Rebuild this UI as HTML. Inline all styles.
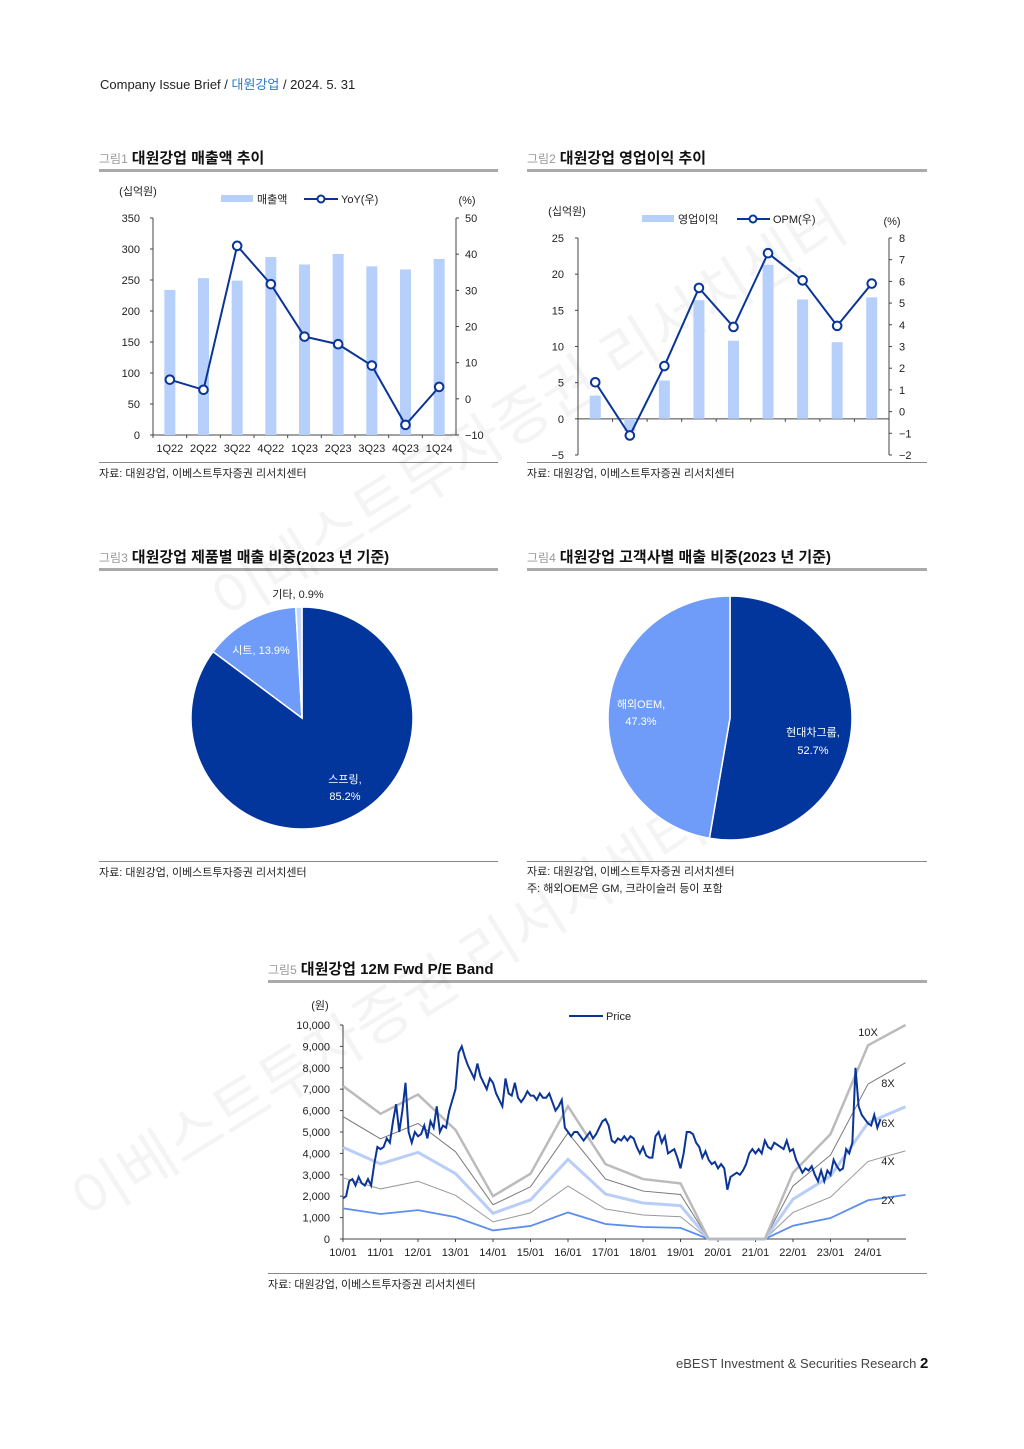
<!DOCTYPE html>
<html><head><meta charset="utf-8">
<style>
body{margin:0;background:#fff;}
#page{position:relative;width:1024px;height:1449px;background:#fff;font-family:"Liberation Sans","Noto Sans CJK KR",sans-serif;color:#222;overflow:hidden;}
.t{position:absolute;white-space:nowrap;}
.ttl{position:absolute;font-size:15px;font-weight:bold;color:#111;border-bottom:3px solid #aaa;padding-bottom:2px;height:20px;}
.ttl span{font-size:12px;font-weight:normal;color:#999;margin-right:4px;}
.src{position:absolute;font-size:11px;color:#222;border-top:1px solid #888;padding-top:2px;}
svg text{font-family:"Liberation Sans","Noto Sans CJK KR",sans-serif;}
</style></head><body>
<div id="page">
<div class="t" style="left:100px;top:74px;font-size:13px;">Company Issue Brief / <span style="color:#2a7ac8">대원강업</span> / 2024. 5. 31</div>

<div class="ttl" style="left:99px;top:147px;width:399px;"><span>그림1</span>대원강업 매출액 추이</div>
<div class="ttl" style="left:527px;top:147px;width:400px;"><span>그림2</span>대원강업 영업이익 추이</div>
<div class="ttl" style="left:99px;top:546px;width:399px;"><span>그림3</span>대원강업 제품별 매출 비중(2023 년 기준)</div>
<div class="ttl" style="left:527px;top:546px;width:400px;"><span>그림4</span>대원강업 고객사별 매출 비중(2023 년 기준)</div>
<div class="ttl" style="left:268px;top:958px;width:659px;"><span>그림5</span>대원강업 12M Fwd P/E Band</div>

<div class="src" style="left:99px;top:462px;width:399px;">자료: 대원강업, 이베스트투자증권 리서치센터</div>
<div class="src" style="left:527px;top:462px;width:400px;">자료: 대원강업, 이베스트투자증권 리서치센터</div>
<div class="src" style="left:99px;top:861px;width:399px;">자료: 대원강업, 이베스트투자증권 리서치센터</div>
<div class="src" style="left:527px;top:861px;width:400px;line-height:17px;">자료: 대원강업, 이베스트투자증권 리서치센터<br>주: 해외OEM은 GM, 크라이슬러 등이 포함</div>
<div class="src" style="left:268px;top:1273px;width:659px;">자료: 대원강업, 이베스트투자증권 리서치센터</div>

<div class="t" style="left:676px;top:1355px;font-size:13px;color:#444;">eBEST Investment &amp; Securities Research <b style="font-size:15px;color:#111">2</b></div>

<svg id="c1" style="position:absolute;left:0;top:0" width="1024" height="1449"></svg>
</div>
<script>
// Figure 1 data
const q1Cats=["1Q22","2Q22","3Q22","4Q22","1Q23","2Q23","3Q23","4Q23","1Q24"];
const salesVals=[234,253,249,287,275,292,272,267,284];
const yoyVals=[5.3,2.5,42.3,31.7,17.2,15.1,9.2,-7.2,3.3];
const salesTicks=[0,50,100,150,200,250,300,350];
const yoyTicks=[-10,0,10,20,30,40,50];
// Figure 2 data
const opVals=[3.2,-1.7,5.3,16.4,10.8,21.3,16.5,10.6,16.8];
const opmVals=[1.35,-1.1,2.1,5.7,3.9,7.3,6.05,3.95,5.9];
const opTicks=[-5,0,5,10,15,20,25];
const opmTicks=[-2,-1,0,1,2,3,4,5,6,7,8];
// Figure 3/4 data
const prodLabels=["스프링","시트","기타"];
const prodShares=[85.2,13.9,0.9];
const custLabels=["현대차그룹","해외OEM"];
const custShares=[52.7,47.3];
// Figure 5 data
const xTickLabels=["10/01","11/01","12/01","13/01","14/01","15/01","16/01","17/01","18/01","19/01","20/01","21/01","22/01","23/01","24/01"];
const priceTicks=[0,1000,2000,3000,4000,5000,6000,7000,8000,9000,10000];
const priceMonthly=[1900,2000,2700,2800,2500,2900,2600,2500,2800,2500,3500,4300,
4200,4300,4700,4500,5500,6300,5000,6000,7300,5000,4500,5000,
4800,4900,5300,4700,5500,5200,6200,5000,5300,5200,6000,6500,
7000,8700,9000,8500,8100,7800,7500,8200,7600,7300,7000,7500,
7300,6800,6500,6200,7500,6800,6700,7300,6600,6400,6600,6900,
6700,6700,6500,6800,6600,6600,6800,6400,6000,6200,6500,5200,
5000,4800,5000,5000,4800,4600,4800,5000,4700,4900,5200,5500,
5600,5300,4600,4500,4700,4600,4800,4600,4800,4700,4300,4000,
4300,3900,3800,3800,4800,5000,4500,4800,4000,4100,4200,3800,
3300,4000,5000,5000,4900,4500,4300,3800,4100,3700,3500,3600,
3300,3500,3300,2300,2900,3000,3100,3000,3200,3500,4000,4200,
4000,4200,4000,4600,4300,4200,4500,4400,4300,4200,4600,4100,
4200,3700,3400,3100,3300,3200,3400,3000,2700,3200,2700,3200,
3000,3700,3400,3200,3300,4200,4000,4500,8000,6200,5800,5600,
5400,5300,5800,5200,5600];
const epsYears=[0,1,2,3,4,5,6,7,8,9,9.75,11.25,12,13,14,15];
const epsVals=[715,585,675,510,200,305,620,350,280,260,0,0,310,490,905,1030];
const bandMults=[2,4,6,8,10];

const NS="http://www.w3.org/2000/svg";
const svg=document.getElementById('c1');
function mk(tag,attrs,parent){const e=document.createElementNS(NS,tag);for(const k in attrs)e.setAttribute(k,attrs[k]);(parent||svg).appendChild(e);return e;}
function txt(x,y,s,size,anchor,fill,parent){const e=mk('text',{x:x,y:y,'font-size':size,'text-anchor':anchor||'middle',fill:fill||'#222'},parent);e.textContent=s;return e;}

// watermark (behind)
const wm=mk('g',{opacity:0.045});


const w1=txt(0,0,'이베스트투자증권 리서치센터',60,'middle','#000',wm);w1.setAttribute('transform','translate(540,430) rotate(-32)');
const w2=txt(0,0,'이베스트투자증권 리서치센터',60,'middle','#000',wm);w2.setAttribute('transform','translate(400,1030) rotate(-32)');

// ---------- Figure 1 ----------
(function(){
const g=mk('g',{});


const L=153,R=456,T=218,B=435;
const yL=v=>B-(v-0)/350*(B-T);
const yR=v=>B-(v+10)/60*(B-T);
const step=(R-L)/9;
const xc=i=>L+step*(i+0.5);
mk('line',{x1:L,y1:T,x2:L,y2:B,stroke:'#444'},g);
mk('line',{x1:R,y1:T,x2:R,y2:B,stroke:'#444'},g);
mk('line',{x1:L,y1:B,x2:R,y2:B,stroke:'#444'},g);
salesTicks.forEach(v=>{mk('line',{x1:L-3,y1:yL(v),x2:L,y2:yL(v),stroke:'#444'},g);txt(L-13,yL(v)+4,v,11,'end','#222',g);});
yoyTicks.forEach(v=>{mk('line',{x1:R,y1:yR(v),x2:R+3,y2:yR(v),stroke:'#444'},g);txt(R+9,yR(v)+4,v<0?'−'+(-v):v,11,'start','#222',g);});
q1Cats.forEach((c,i)=>{mk('line',{x1:L+step*i,y1:B,x2:L+step*i,y2:B+3,stroke:'#444'},g);txt(xc(i),B+17,c,11,'middle','#222',g);});
salesVals.forEach((v,i)=>{const b=mk('rect',{x:xc(i)-5.5,y:yL(v),width:11,height:B-yL(v),fill:'#b7cffb'},g);

});
mk('polyline',{points:yoyVals.map((v,i)=>xc(i)+','+yR(v)).join(' '),fill:'none',stroke:'#0a3596','stroke-width':2},g);
yoyVals.forEach((v,i)=>{const p=mk('circle',{cx:xc(i),cy:yR(v),r:4.3,fill:'#fff',stroke:'#0a3596','stroke-width':2},g);

});
txt(138,195,'(십억원)',11,'middle','#222',g);
txt(467,204,'(%)',11,'middle','#222',g);
mk('rect',{x:221,y:195,width:32,height:7,fill:'#b7cffb'},g);txt(257,203,'매출액',11,'start','#222',g);
mk('line',{x1:304,y1:199,x2:338,y2:199,stroke:'#0a3596','stroke-width':2},g);
mk('circle',{cx:321,cy:199,r:3.5,fill:'#fff',stroke:'#0a3596','stroke-width':2},g);
txt(341,203,'YoY(우)',11,'start','#222',g);
})();

// ---------- Figure 2 ----------
(function(){
const g=mk('g',{});


const L=578,R=889,T=238,B=455;
const yL=v=>B-(v+5)/30*(B-T);
const yR=v=>B-(v+2)/10*(B-T);
const step=(R-L)/9;
const xc=i=>L+step*(i+0.5);
mk('line',{x1:L,y1:T,x2:L,y2:B,stroke:'#444'},g);
mk('line',{x1:R,y1:T,x2:R,y2:B,stroke:'#444'},g);
mk('line',{x1:L,y1:yL(0),x2:R,y2:yL(0),stroke:'#444'},g);
opTicks.forEach(v=>{mk('line',{x1:L-3,y1:yL(v),x2:L,y2:yL(v),stroke:'#444'},g);txt(L-14,yL(v)+4,v<0?'−'+(-v):v,11,'end','#222',g);});
opmTicks.forEach(v=>{mk('line',{x1:R,y1:yR(v),x2:R+3,y2:yR(v),stroke:'#444'},g);txt(R+10,yR(v)+4,v<0?'−'+(-v):v,11,'start','#222',g);});
opVals.forEach((v,i)=>{mk('line',{x1:L+step*i,y1:yL(0),x2:L+step*i,y2:yL(0)+3,stroke:'#444'},g);
const b=mk('rect',{x:xc(i)-5.5,y:Math.min(yL(v),yL(0)),width:11,height:Math.abs(yL(0)-yL(v)),fill:'#b7cffb'},g);

});
mk('polyline',{points:opmVals.map((v,i)=>xc(i)+','+yR(v)).join(' '),fill:'none',stroke:'#0a3596','stroke-width':2},g);
opmVals.forEach((v,i)=>{const p=mk('circle',{cx:xc(i),cy:yR(v),r:4.3,fill:'#fff',stroke:'#0a3596','stroke-width':2},g);

});
txt(567,215,'(십억원)',11,'middle','#222',g);
txt(892,225,'(%)',11,'middle','#222',g);
mk('rect',{x:642,y:215,width:32,height:7,fill:'#b7cffb'},g);txt(678,223,'영업이익',11,'start','#222',g);
mk('line',{x1:737,y1:219,x2:770,y2:219,stroke:'#0a3596','stroke-width':2},g);
mk('circle',{cx:753,cy:219,r:3.5,fill:'#fff',stroke:'#0a3596','stroke-width':2},g);
txt(773,223,'OPM(우)',11,'start','#222',g);
})();

// ---------- Pies ----------
function pie(cx,cy,r,shares,colors,name){
const g=mk('g',{});


let a0=0;const tot=shares.reduce((a,b)=>a+b,0);
shares.forEach((s,i)=>{const a1=a0+s/tot*2*Math.PI;
const p=(a)=>[cx+r*Math.sin(a),cy-r*Math.cos(a)];
const [x0,y0]=p(a0),[x1,y1]=p(a1);
const path=mk('path',{d:`M${cx},${cy} L${x0},${y0} A${r},${r} 0 ${a1-a0>Math.PI?1:0} 1 ${x1},${y1} Z`,fill:colors[i],stroke:'#fff','stroke-width':1.5},g);


a0=a1;});
return g;}
const g3=pie(302,718,111,prodShares,['#02369c','#6f9cf8','#c5d7fb'],'product-pie');
txt(345,783,prodLabels[0]+',',11,'middle','#fff',g3);txt(345,800,prodShares[0].toFixed(1)+'%',11,'middle','#fff',g3);
txt(261,654,prodLabels[1]+', '+prodShares[1].toFixed(1)+'%',11,'middle','#fff',g3);
txt(298,598,prodLabels[2]+', '+prodShares[2].toFixed(1)+'%',11,'middle','#222',g3);
const g4=pie(730,718,122,custShares,['#02369c','#6f9cf8'],'customer-pie');
txt(813,736,custLabels[0]+',',11,'middle','#fff',g4);txt(813,754,custShares[0].toFixed(1)+'%',11,'middle','#fff',g4);
txt(641,708,custLabels[1]+',',11,'middle','#fff',g4);txt(641,725,custShares[1].toFixed(1)+'%',11,'middle','#fff',g4);

// ---------- Figure 5 ----------
(function(){
const g=mk('g',{});


const L=343,R=906,T=1025,B=1239,yearW=37.5;
const y=v=>B-v/10000*(B-T);
const x=yr=>L+yr*yearW;
mk('line',{x1:L,y1:T,x2:L,y2:B,stroke:'#444'},g);
mk('line',{x1:L,y1:B,x2:R,y2:B,stroke:'#444'},g);
priceTicks.forEach(v=>{mk('line',{x1:L-3,y1:y(v),x2:L,y2:y(v),stroke:'#444'},g);txt(L-13,y(v)+4,v.toLocaleString('en-US'),11,'end','#222',g);});
xTickLabels.forEach((s,i)=>{mk('line',{x1:x(i),y1:B,x2:x(i),y2:B+3,stroke:'#444'},g);txt(x(i),B+17,s,11,'middle','#222',g);});
const styles={2:['#5b8ef0',1.8],4:['#999',1],6:['#b8cdf8',3],8:['#777',1],10:['#bbb',2.5]};
bandMults.forEach(m=>{const pts=epsYears.map((yr,i)=>x(yr)+','+Math.max(T,y(epsVals[i]*m))).join(' ');
const l=mk('polyline',{points:pts,fill:'none',stroke:styles[m][0],'stroke-width':styles[m][1]},g);

});
const pl=mk('polyline',{points:priceMonthly.map((v,i)=>x(i/12)+','+y(v)).join(' '),fill:'none',stroke:'#0a3596','stroke-width':2},g);


txt(868,1036,'10X',11,'middle','#222',g);txt(888,1087,'8X',11,'middle','#222',g);
txt(888,1127,'6X',11,'middle','#222',g);txt(888,1165,'4X',11,'middle','#222',g);txt(888,1204,'2X',11,'middle','#222',g);
txt(320,1009,'(원)',11,'middle','#222',g);
mk('line',{x1:569,y1:1016,x2:603,y2:1016,stroke:'#0a3596','stroke-width':2},g);
txt(606,1020,'Price',11,'start','#222',g);
})();
</script>
</body></html>
